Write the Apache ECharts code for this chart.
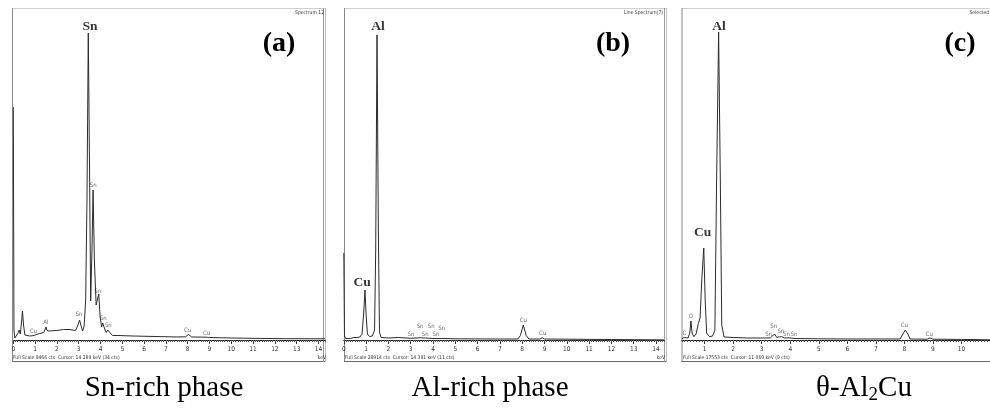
<!DOCTYPE html>
<html>
<head>
<meta charset="utf-8">
<script src="https://cdn.jsdelivr.net/npm/echarts@6/dist/echarts.min.js"></script>
<style>
  html, body { margin: 0; padding: 0; background: #fff; }
  #chart { width: 990px; height: 413px; }
</style>
</head>
<body>
<div id="chart"></div>
<script>
// EDS spectra: energy (keV) against counts for the three phases.

// (a) Sn-rich phase
const fullScaleA = 9466;
const ticksA = [0, 1, 2, 3, 4, 5, 6, 7, 8, 9, 10, 11, 12, 13, 14];
const spectrumA = [
  [0.00, 6640], [0.03, 285], [0.07, 57], [0.15, 86], [0.22, 200], [0.27, 285], [0.32, 171],
  [0.38, 513], [0.42, 827], [0.47, 428], [0.53, 143], [0.62, 94], [0.75, 114], [0.90, 123],
  [1.00, 143], [1.20, 185], [1.40, 214], [1.45, 285], [1.50, 371], [1.55, 271], [1.65, 257],
  [2.00, 271], [2.30, 299], [2.60, 299], [2.85, 271], [2.95, 399], [3.04, 570], [3.10, 428],
  [3.18, 257], [3.25, 399], [3.32, 1140], [3.38, 3991], [3.44, 8753], [3.49, 5417],
  [3.55, 1112], [3.61, 2566], [3.66, 4277], [3.72, 2281], [3.80, 998], [3.86, 1055],
  [3.92, 1311], [3.98, 684], [4.05, 371], [4.10, 485], [4.15, 527], [4.21, 285], [4.27, 214],
  [4.33, 285], [4.38, 314], [4.45, 200], [4.55, 128], [4.80, 128], [5.50, 114], [6.50, 100],
  [7.50, 86], [7.90, 91], [8.04, 157], [8.18, 86], [8.85, 80], [8.92, 91], [9.00, 71],
  [10.0, 57], [11.0, 48], [12.5, 37], [14.3, 34]
];
const notesA = [
  [3.52, 8924, 'Sn', 'big'],
  [3.67, 4419, 'Sn', 'small'], [3.87, 1397, 'Sn', 'small'], [4.13, 627, 'Sn', 'small'],
  [4.36, 428, 'Sn', 'small'], [3.01, 721, 'Sn', 'small'], [1.49, 493, 'Al', 'small'],
  [0.92, 237, 'Cu', 'small'], [8.00, 265, 'Cu', 'small'], [8.87, 191, 'Cu', 'small']
];

// (b) Al-rich phase
const fullScaleB = 28914;
const ticksB = [0, 1, 2, 3, 4, 5, 6, 7, 8, 9, 10, 11, 12, 13, 14];
const spectrumB = [
  [0.00, 7580], [0.03, 348], [0.08, 131], [0.30, 131], [0.45, 218], [0.52, 305], [0.60, 218],
  [0.72, 261], [0.82, 523], [0.90, 2613], [0.95, 4355], [1.00, 2177], [1.06, 523], [1.15, 305],
  [1.28, 348], [1.38, 871], [1.43, 7838], [1.49, 26562], [1.55, 9580], [1.60, 697], [1.67, 218],
  [2.00, 174], [2.45, 218], [3.00, 148], [3.44, 192], [3.66, 174], [4.00, 131], [4.40, 131],
  [5.00, 105], [7.00, 87], [7.80, 87], [7.92, 392], [8.05, 1306], [8.18, 392], [8.30, 87],
  [8.80, 87], [8.90, 192], [9.00, 87], [10.0, 70], [12.0, 40], [14.35, 11]
];
const notesB = [
  [1.53, 27259, 'Al', 'big'], [0.82, 4964, 'Cu', 'big'],
  [3.01, 523, 'Sn', 'small'], [3.42, 1158, 'Sn', 'small'], [3.65, 523, 'Sn', 'small'],
  [3.92, 1158, 'Sn', 'small'], [4.13, 523, 'Sn', 'small'], [4.39, 984, 'Sn', 'small'],
  [8.05, 1681, 'Cu', 'small'], [8.92, 549, 'Cu', 'small']
];

// (c) theta-Al2Cu
const fullScaleC = 17553;
const ticksC = [1, 2, 3, 4, 5, 6, 7, 8, 9, 10];
const spectrumC = [
  [0.20, 53], [0.24, 63], [0.28, 132], [0.33, 79], [0.42, 106], [0.48, 370], [0.52, 1005],
  [0.56, 370], [0.62, 174], [0.70, 317], [0.78, 872], [0.84, 1163], [0.90, 3172], [0.97, 4864],
  [1.02, 2115], [1.07, 370], [1.17, 174], [1.28, 211], [1.36, 529], [1.42, 8459], [1.49, 16284],
  [1.55, 8459], [1.60, 793], [1.68, 159], [2.00, 132], [2.50, 106], [3.00, 106], [3.30, 106],
  [3.38, 211], [3.45, 317], [3.53, 132], [3.62, 169], [3.70, 174], [3.80, 106], [3.92, 116],
  [4.20, 79], [5.00, 63], [6.00, 53], [7.00, 53], [7.85, 53], [7.95, 317], [8.03, 529],
  [8.12, 317], [8.20, 53], [8.80, 42], [8.90, 106], [9.00, 42], [10.0, 32], [11.0, 9]
];
const notesC = [
  [1.50, 16548, 'Al', 'big'], [0.93, 5657, 'Cu', 'big'],
  [0.29, 354, 'C', 'small'], [0.52, 1232, 'O', 'small'],
  [3.24, 317, 'Sn', 'small'], [3.42, 703, 'Sn', 'small'], [3.67, 439, 'Sn', 'small'],
  [3.87, 317, 'Sn', 'small'], [4.13, 317, 'Sn', 'small'],
  [8.00, 756, 'Cu', 'small'], [8.87, 317, 'Cu', 'small']
];

const panelLetters = ['(a)', '(b)', '(c)'];
const spectrumNames = ['Spectrum 12', 'Line Spectrum(7)', 'Selected'];
const footers = [
  'Full Scale 9466 cts  Cursor: 14.289 keV (34 cts)',
  'Full Scale 28914 cts  Cursor: 14.391 keV (11 cts)',
  'Full Scale 17553 cts  Cursor: 11.069 keV (9 cts)'
];

const SMALL_FONT = '"Liberation Sans Narrow", "DejaVu Sans Condensed", "Liberation Sans", sans-serif';
const SERIF = '"Liberation Serif", "DejaVu Serif", serif';

// layout of each panel's plotting area
const panels = [
  { spec: spectrumA, notes: notesA, fs: fullScaleA, ticks: ticksA, min: 0, max: 14.3, left: 13.3, width: 311.7 },
  { spec: spectrumB, notes: notesB, fs: fullScaleB, ticks: ticksB, min: 0, max: 14.35, left: 343.8, width: 320 },
  { spec: spectrumC, notes: notesC, fs: fullScaleC, ticks: ticksC, min: 0.2, max: 11.0, left: 681.8, width: 313.2 }
];

const grids = [], xAxes = [], yAxes = [], series = [];
panels.forEach((p, i) => {
  grids.push({ left: p.left, top: 8, width: p.width, height: 332 });
  xAxes.push({
    gridIndex: i, type: 'value', min: p.min, max: p.max, position: 'bottom',
    axisLine: { show: true, lineStyle: { color: '#1a1a1a', width: 1 } },
    axisTick: { show: true, customValues: p.ticks, length: 4, inside: false, lineStyle: { color: '#333', width: 1 } },
    axisLabel: { show: true, customValues: p.ticks, fontSize: 6.5, color: '#333', margin: 6, fontFamily: SMALL_FONT },
    splitLine: { show: false }
  });
  xAxes.push({
    gridIndex: i, type: 'value', min: p.min, max: p.max, interval: 0.1, position: 'bottom', offset: 0,
    axisLine: { show: false },
    axisTick: { show: true, length: 2, lineStyle: { color: '#555', width: 1 } },
    axisLabel: { show: false },
    splitLine: { show: false }
  });
  yAxes.push({ gridIndex: i, type: 'value', min: 0, max: p.fs, show: false });
  series.push({
    type: 'line', xAxisIndex: 2 * i, yAxisIndex: i, data: p.spec,
    symbol: 'none', showSymbol: false, silent: true, animation: false,
    lineStyle: { color: '#2b2b2b', width: 1 }
  });
  series.push({
    type: 'scatter', xAxisIndex: 2 * i, yAxisIndex: i, symbolSize: 0, silent: true, animation: false,
    data: p.notes.map(n => ({ value: [n[0], n[1]], name: n[2], kind: n[3] })),
    label: {
      show: true, position: [0, 0], align: 'center', verticalAlign: 'middle',
      formatter: q => (q.data.kind === 'big' ? '{big|' : '{small|') + q.data.name + '}',
      rich: {
        big: { fontFamily: SERIF, fontWeight: 'bold', fontSize: 13.5, color: '#000' },
        small: { fontFamily: SMALL_FONT, fontSize: 6, color: '#444' }
      }
    }
  });
});

// frames around each spectrum window
const frameBoxes = [
  { x1: 12, x2: 325, right2: 323 },
  { x1: 344, x2: 666, right2: 664 },
  { x1: 681.5, x2: 1000, right2: null }
];
const graphics = [];
frameBoxes.forEach((f, i) => {
  graphics.push({ type: 'line', silent: true, shape: { x1: f.x1, y1: 8.5, x2: f.x2, y2: 8.5 }, style: { stroke: '#cfcfcf', lineWidth: 1 } });
  graphics.push({ type: 'line', silent: true, shape: { x1: f.x1 + 0.5, y1: 8, x2: f.x1 + 0.5, y2: 362 }, style: { stroke: '#8a8a8a', lineWidth: 1 } });
  graphics.push({ type: 'line', silent: true, shape: { x1: f.x1, y1: 361.5, x2: f.x2 + 1, y2: 361.5 }, style: { stroke: '#6a6a6a', lineWidth: 1 } });
  if (f.right2 !== null) {
    graphics.push({ type: 'line', silent: true, shape: { x1: f.right2 + 0.5, y1: 8, x2: f.right2 + 0.5, y2: 362 }, style: { stroke: '#9a9a9a', lineWidth: 1 } });
    graphics.push({ type: 'line', silent: true, shape: { x1: f.x2 + 0.5, y1: 8, x2: f.x2 + 0.5, y2: 362 }, style: { stroke: '#bdbdbd', lineWidth: 1 } });
  }
});

// window annotations
const letterX = [279, 613, 960];
const nameRight = [324, 663, 989];
const footerX = [13, 345, 683];
panelLetters.forEach((t, i) => {
  graphics.push({ type: 'text', silent: true, x: letterX[i], y: 44,
    style: { text: t, font: 'bold 28px ' + SERIF, fill: '#000', textAlign: 'center', textVerticalAlign: 'middle' } });
  graphics.push({ type: 'text', silent: true, x: nameRight[i], y: 13,
    style: { text: spectrumNames[i], font: '5px ' + SMALL_FONT, fill: '#333', textAlign: 'right', textVerticalAlign: 'middle' } });
  graphics.push({ type: 'text', silent: true, x: footerX[i], y: 358,
    style: { text: footers[i], font: '5px ' + SMALL_FONT, fill: '#333', textAlign: 'left', textVerticalAlign: 'middle' } });
});
graphics.push({ type: 'text', silent: true, x: 322, y: 358,
  style: { text: 'keV', font: '5px ' + SMALL_FONT, fill: '#333', textAlign: 'center', textVerticalAlign: 'middle' } });
graphics.push({ type: 'text', silent: true, x: 661, y: 358,
  style: { text: 'keV', font: '5px ' + SMALL_FONT, fill: '#333', textAlign: 'center', textVerticalAlign: 'middle' } });

// phase captions
const captions = ['Sn-rich phase', 'Al-rich phase'];
const captionX = [164, 490];
captions.forEach((t, i) => {
  graphics.push({ type: 'text', silent: true, x: captionX[i], y: 388,
    style: { text: t, font: '29px ' + SERIF, fill: '#000', textAlign: 'center', textVerticalAlign: 'middle' } });
});
graphics.push({ type: 'text', silent: true, x: 864, y: 388,
  style: {
    text: '{m|θ-Al}{s|2}{m|Cu}', textAlign: 'center', textVerticalAlign: 'middle',
    rich: {
      m: { fontFamily: SERIF, fontSize: 29, lineHeight: 34, fill: '#000' },
      s: { fontFamily: SERIF, fontSize: 19, lineHeight: 19, verticalAlign: 'bottom', fill: '#000' }
    }
  } });

const chart = echarts.init(document.getElementById('chart'), null, { renderer: 'canvas' });
chart.setOption({
  animation: false,
  backgroundColor: '#fff',
  grid: grids,
  xAxis: xAxes,
  yAxis: yAxes,
  series: series,
  graphic: { elements: graphics }
});
</script>
</body>
</html>
